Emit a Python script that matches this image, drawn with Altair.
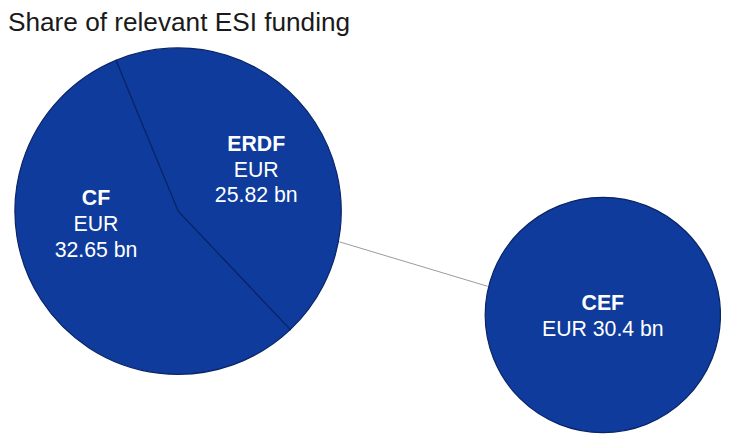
import math
import altair as alt
import pandas as pd

title_text = "Share of relevant ESI funding"
pie_funds = ["ERDF", "CF"]
pie_values = [25.82, 32.65]
single_funds = ["CEF"]
single_values = [30.4]
unit_prefix = "EUR"
unit_suffix = "bn"

BLUE = "#0e3b9c"
EDGE = "#0a2466"
total_pie = sum(pie_values)

pie_df = pd.DataFrame({
    "fund": pie_funds,
    "value": pie_values,
    "idx": list(range(len(pie_funds))),
    "total": [total_pie] * len(pie_funds),
})
single_df = pd.DataFrame({
    "fund": single_funds,
    "value": single_values,
    "total": single_values,
})

radius_scale = alt.Scale(type="sqrt", domain=[0, total_pie], range=[0, 165])
start = math.radians(-22.4)

pie = alt.Chart(pie_df).mark_arc(stroke=EDGE, strokeWidth=1.2, fill=BLUE).encode(
    x=alt.value(172),
    y=alt.value(203),
    theta=alt.Theta("value:Q", stack=True,
                    scale=alt.Scale(range=[start, start + 2 * math.pi])),
    radius=alt.Radius("total:Q", scale=radius_scale),
    order=alt.Order("idx:Q"),
)

single = alt.Chart(single_df).mark_arc(stroke=EDGE, strokeWidth=1.2, fill=BLUE).encode(
    x=alt.value(601.5),
    y=alt.value(308),
    theta=alt.Theta("value:Q", stack=True,
                    scale=alt.Scale(range=[0, 2 * math.pi])),
    radius=alt.Radius("total:Q", scale=radius_scale),
)

connector = alt.Chart(single_df).mark_rule(color="#9a9a9a", strokeWidth=1).encode(
    x=alt.value(335), y=alt.value(234), x2=alt.value(485), y2=alt.value(279)
)

title = alt.Chart(pd.DataFrame({"t": [title_text]})).mark_text(
    align="left", baseline="top", fontSize=26.5, font="Liberation Sans",
    color="#1a1a1a"
).encode(text="t:N", x=alt.value(0), y=alt.value(0))


def label_layers(df, fund, x, y, one_line=False):
    d = df[df["fund"] == fund].copy()
    if one_line:
        d["lines"] = [[f"{unit_prefix} {v} {unit_suffix}"] for v in d["value"]]
    else:
        d["lines"] = [[unit_prefix, f"{v:.2f} {unit_suffix}"] for v in d["value"]]
    base = alt.Chart(d)
    name = base.mark_text(
        fontSize=21.5, fontWeight="bold", color="white", font="Liberation Sans",
        baseline="alphabetic", align="center"
    ).encode(text="fund:N", x=alt.value(x), y=alt.value(y))
    rest = base.mark_text(
        fontSize=21.5, color="white", font="Liberation Sans",
        baseline="alphabetic", align="center", lineHeight=26
    ).encode(text="lines:N", x=alt.value(x), y=alt.value(y + 26))
    return [name, rest]


labels = []
labels += label_layers(pie_df, "ERDF", 251, 142)
labels += label_layers(pie_df, "CF", 89, 197)
labels += label_layers(single_df, "CEF", 601.5, 303, one_line=True)

chart = alt.layer(connector, pie, single, title, *labels).resolve_scale(
    theta="independent"
).properties(
    width=721, height=431, padding=0,
    autosize=alt.AutoSizeParams(type="none"),
).configure_view(stroke=None)

chart.save("out.html", embed_options={"renderer": "svg", "actions": False})
